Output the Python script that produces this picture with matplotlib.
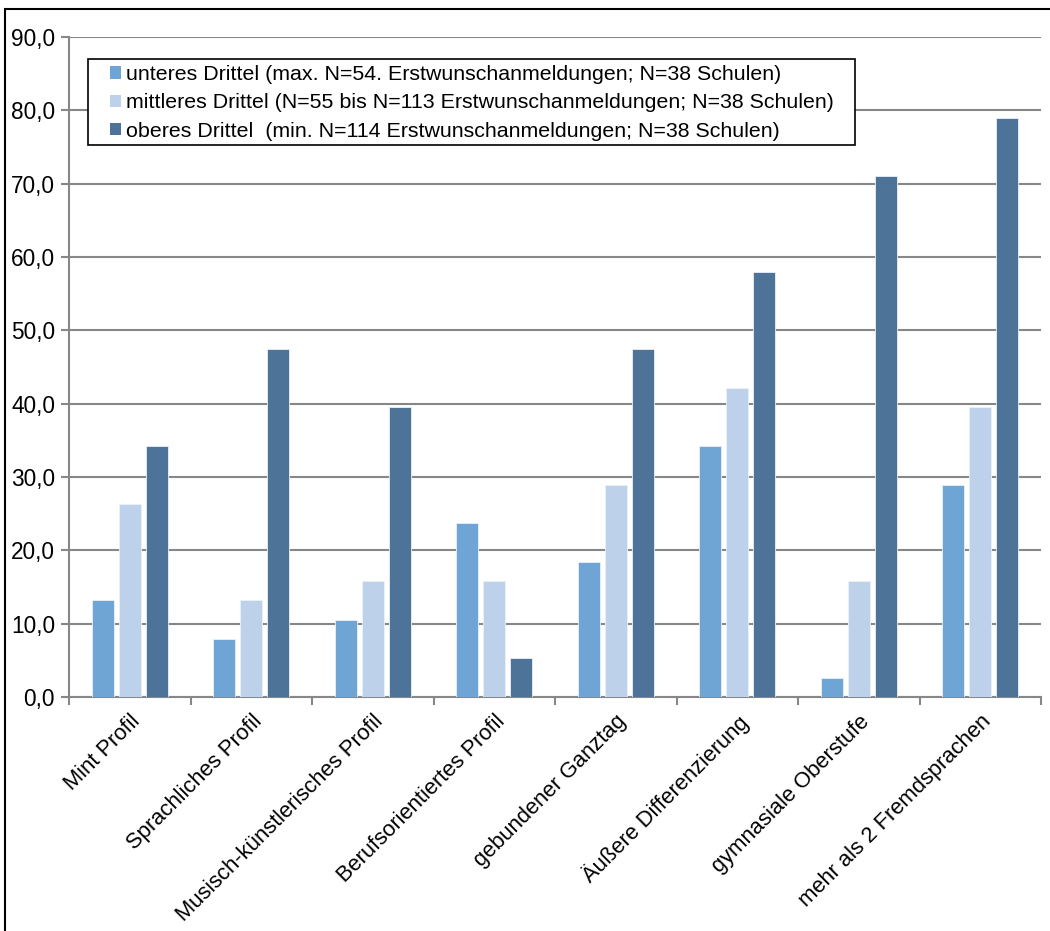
import numpy as np
import matplotlib
matplotlib.use("Agg")
import matplotlib.pyplot as plt
from matplotlib.patches import Rectangle
from matplotlib.ticker import FuncFormatter

plt.rcParams['font.family'] = ['Liberation Sans', 'DejaVu Sans']

# Daten (Anteil der Schulen in %, je Drittel N=38 Schulen)
kategorien = ['Mint Profil', 'Sprachliches Profil', 'Musisch-künstlerisches Profil',
              'Berufsorientiertes Profil', 'gebundener Ganztag', 'Äußere Differenzierung',
              'gymnasiale Oberstufe', 'mehr als 2 Fremdsprachen']
unteres = [13.2, 7.9, 10.5, 23.7, 18.4, 34.2, 2.6, 28.9]
mittleres = [26.3, 13.2, 15.8, 15.8, 28.9, 42.1, 15.8, 39.5]
oberes = [34.2, 47.4, 39.5, 5.3, 47.4, 57.9, 71.1, 78.9]

labels = ['unteres Drittel (max. N=54. Erstwunschanmeldungen; N=38 Schulen)',
          'mittleres Drittel (N=55 bis N=113 Erstwunschanmeldungen; N=38 Schulen)',
          'oberes Drittel  (min. N=114 Erstwunschanmeldungen; N=38 Schulen)']
farben = ['#6FA5D4', '#BDD1EA', '#4D7398']

fig = plt.figure(figsize=(10.5, 9.31), dpi=100)
ax = fig.add_axes([69/1050, 1-697/931, (1041-69)/1050, (697-37)/931])

x = np.arange(len(kategorien))
breite = 0.18
abstand = 0.222
for i, (werte, lab, col) in enumerate(zip([unteres, mittleres, oberes], labels, farben)):
    ax.bar(x + (i-1)*abstand, werte, breite, color=col, label=lab,
           edgecolor='#EAF1F8', linewidth=0.6, zorder=3)

ax.set_xlim(-0.5, 7.5)
ax.set_ylim(0, 90)
ax.set_yticks(np.arange(0, 91, 10))
ax.yaxis.set_major_formatter(FuncFormatter(lambda v, p: f'{v:.1f}'.replace('.', ',')))
ax.grid(axis='y', color='#878787', linewidth=1.5, zorder=0)
ax.set_axisbelow(True)

# Kategorie-Ticks an den Grenzen, Beschriftungen in der Mitte
ax.set_xticks(np.arange(-0.5, 8, 1))
ax.set_xticklabels([])
ax.set_xticks(x, minor=True)
ax.set_xticklabels(kategorien, minor=True, rotation=45, ha='right', va='top',
                   rotation_mode='anchor', fontsize=15.8)
ax.tick_params(axis='x', which='minor', length=0, pad=10)
ax.tick_params(axis='x', which='major', length=6, width=1.5, color='#878787', direction='out')
ax.tick_params(axis='y', length=6, width=1.5, color='#878787', labelsize=16.3, pad=4)

for s in ['top', 'right']:
    ax.spines[s].set_visible(False)
for s in ['left', 'bottom']:
    ax.spines[s].set_color('#878787')
    ax.spines[s].set_linewidth(1.5)

# Legende: Rahmen separat, Inhalt ohne Rahmen
ax.add_patch(Rectangle((88/1050, 1-145/931), (855-88)/1050, 86/931,
                       transform=fig.transFigure, facecolor='white', clip_on=False,
                       edgecolor='black', linewidth=1.2, zorder=4))
leg = ax.legend(loc='upper left', bbox_to_anchor=(110/1050, 1-65/931),
                bbox_transform=fig.transFigure, borderaxespad=0, borderpad=0,
                frameon=False, fontsize=15.4, handlelength=0.52, handleheight=0.52,
                handletextpad=0.25, labelspacing=0.44)
leg.set_zorder(5)
for h in leg.legend_handles:
    h.set_linewidth(0)

# Rahmen um das Diagramm
fig.patches.append(Rectangle((5/1050, -0.05), 1.1, 1-9/931+0.05, transform=fig.transFigure,
                             fill=False, edgecolor='black', linewidth=1.5))

fig.savefig('out.png', dpi=100)
